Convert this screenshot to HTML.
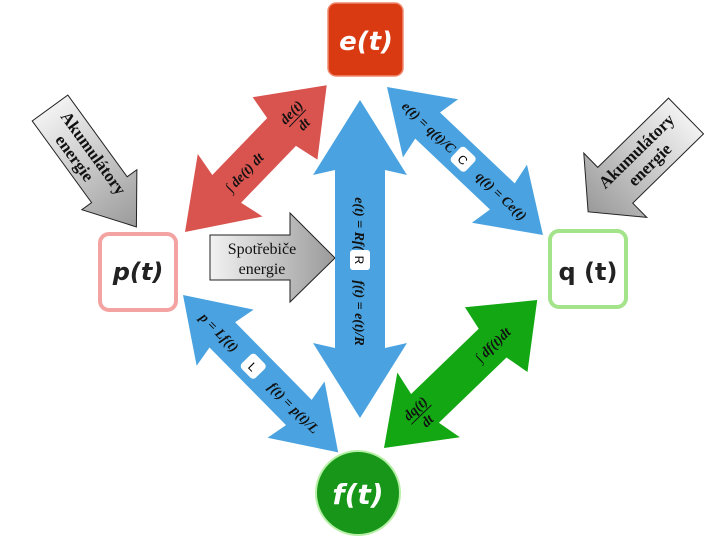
<!DOCTYPE html>
<html><head><meta charset="utf-8"><style>
html,body{margin:0;padding:0;background:#fff;}
svg{display:block;}
.f{font-family:"Liberation Serif",serif;font-weight:bold;font-style:italic;font-size:14px;fill:#111;}
.g{font-family:"Liberation Serif",serif;font-weight:bold;font-size:17px;fill:#111;}
</style></head><body>
<svg width="720" height="540" viewBox="0 0 720 540" xmlns="http://www.w3.org/2000/svg">
<defs>
<linearGradient id="gr" x1="0" y1="0" x2="1" y2="0"><stop offset="0" stop-color="#f2f2f2"/><stop offset="1" stop-color="#9a9a9a"/></linearGradient>
</defs>

<!-- gray arrows -->
<g transform="translate(50,108) rotate(54)">
<polygon points="0,-22 101,-22 101,-34 147,0 101,34 101,22 0,22" fill="url(#gr)" stroke="#222" stroke-width="1"/>
<text class="g" x="62" y="-3" text-anchor="middle">Akumulátory</text>
<text class="g" x="55" y="15" text-anchor="middle">energie</text>
</g>
<g transform="translate(686,116) rotate(135.6)">
<polygon points="0,-25 99,-25 99,-45 137,0 99,45 99,25 0,25" fill="url(#gr)" stroke="#222" stroke-width="1"/>
<g transform="translate(60,0) rotate(180)">
<text class="g" x="0" y="-4" text-anchor="middle">Akumulátory</text>
<text class="g" x="0" y="15" text-anchor="middle">energie</text>
</g>
</g>
<polygon points="210,235 290,235 290,213 335,258 290,302 290,280 210,280" fill="url(#gr)" stroke="#222" stroke-width="1"/>
<text class="g" x="262" y="254" text-anchor="middle" style="font-weight:normal;font-size:16px">Spotřebiče</text>
<text class="g" x="262" y="274" text-anchor="middle" style="font-weight:normal;font-size:16px">energie</text>

<!-- red -->
<g transform="translate(185,232) rotate(-46)">
<polygon points="0,0 65,-45 60,-20 139,-20 144,-45 204,0 144,45 139,20 60,20 65,45" fill="#d9534f"/>
<text class="f" x="60" y="6">∫ de(t) dt</text>
<text class="f" x="160" y="-2" text-anchor="middle">de(t)</text>
<line x1="148" y1="2" x2="172" y2="2" stroke="#111"/>
<text class="f" x="160" y="15" text-anchor="middle">dt</text>
</g>
<!-- vertical blue -->
<g transform="translate(360,418) rotate(-90)">
<polygon points="0,0 75,-47 70,-25 248,-25 243,-47 318,0 243,47 248,25 70,25 75,47" fill="#4aa3e0"/>
<text class="f" x="190" y="5" text-anchor="middle" transform="rotate(180 190 0)">e(t) = Rf(t)</text>
<rect x="148" y="-10" width="20" height="20" rx="3" fill="#fff"/>
<text x="158" y="5" text-anchor="middle" transform="rotate(180 158 0)" font-family="Liberation Sans" font-size="12">R</text>
<text class="f" x="105" y="5" text-anchor="middle" transform="rotate(180 105 0)">f(t) = e(t)/R</text>
</g>
<!-- C blue -->
<g transform="translate(387,87) rotate(43.5)">
<polygon points="0,0 60,-40 56,-18 159,-18 155,-40 215,0 155,40 159,18 56,18 60,40" fill="#4aa3e0"/>
<text class="f" x="58" y="5" text-anchor="middle">e(t) = q(t)/C</text>
<rect x="95" y="-10" width="20" height="20" rx="4" fill="#fff"/>
<text x="105" y="5" text-anchor="middle" font-family="Liberation Sans" font-size="12">C</text>
<text class="f" x="158" y="5" text-anchor="middle">q(t) = Ce(t)</text>
</g>
<!-- L blue -->
<g transform="translate(183,295) rotate(45.4)">
<polygon points="0,0 60,-40 56,-18 165,-18 161,-40 221,0 161,40 165,18 56,18 60,40" fill="#4aa3e0"/>
<text class="f" x="52" y="5" text-anchor="middle">p = Lf(t)</text>
<rect x="90" y="-10" width="20" height="20" rx="4" fill="#fff"/>
<text x="100" y="5" text-anchor="middle" font-family="Liberation Sans" font-size="12">L</text>
<text class="f" x="158" y="5" text-anchor="middle">f(t) = p(t)/L</text>
</g>
<!-- green -->
<g transform="translate(384,448) rotate(-44)">
<polygon points="0,0 62,-45 57,-20 151,-20 156,-45 213,0 156,45 151,20 57,20 62,45" fill="#13a813"/>
<text class="f" x="50" y="-2" text-anchor="middle">dq(t)</text>
<line x1="36" y1="2" x2="64" y2="2" stroke="#111"/>
<text class="f" x="50" y="15" text-anchor="middle">dt</text>
<text class="f" x="150" y="6" text-anchor="middle">∫ df(t)dt</text>
</g>

<!-- nodes -->
<rect x="328" y="3" width="75" height="73" rx="8" fill="#d93a12" stroke="#f08a70" stroke-width="1.5"/>
<text x="366" y="50" text-anchor="middle" font-family="DejaVu Sans" font-weight="bold" font-style="italic" font-size="26" fill="#fff">e(t)</text>
<rect x="100" y="234" width="76" height="76" rx="9" fill="#fff" stroke="#f4a3a3" stroke-width="4"/>
<text x="138" y="280" text-anchor="middle" font-family="DejaVu Sans" font-weight="bold" font-style="italic" font-size="24" fill="#222">p(t)</text>
<rect x="550" y="231" width="76" height="76" rx="9" fill="#fff" stroke="#a3e38a" stroke-width="4"/>
<text x="588" y="280" text-anchor="middle" font-family="DejaVu Sans" font-weight="bold" font-size="24" fill="#222">q (t)</text>
<circle cx="358" cy="493" r="42" fill="#17961a" stroke="#b6f0a6" stroke-width="2"/>
<text x="358" y="504" text-anchor="middle" font-family="DejaVu Sans" font-weight="bold" font-style="italic" font-size="28" fill="#fff">f(t)</text>
</svg>
</body></html>
